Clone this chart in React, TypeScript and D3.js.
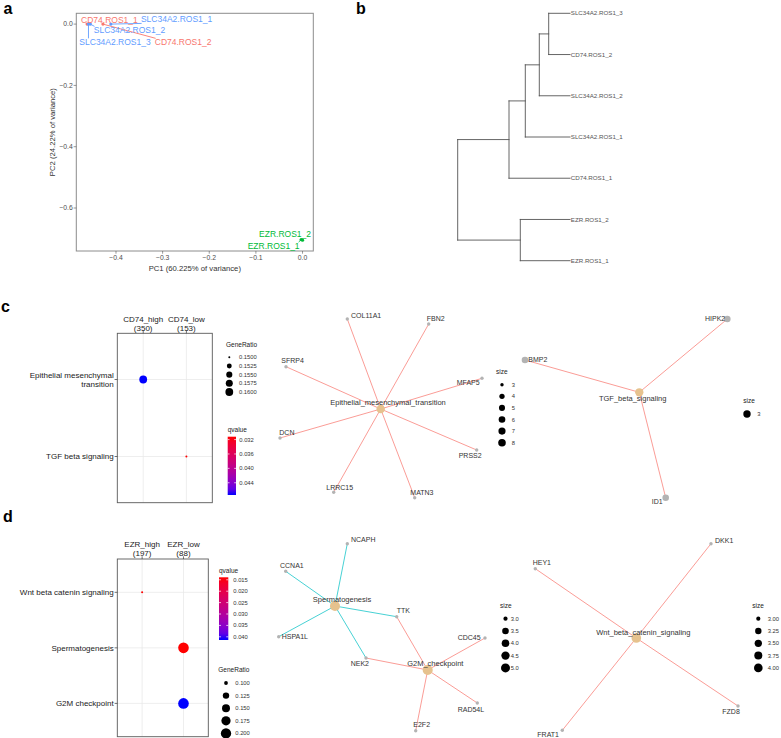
import React from "react";
import * as d3 from "d3";

const FONT = "'Liberation Sans', Arial, Helvetica, sans-serif";

// ---------------- Panel a : PCA ----------------
const pcaSamples = ["CD74.ROS1_1", "CD74.ROS1_2", "SLC34A2.ROS1_1", "SLC34A2.ROS1_2", "SLC34A2.ROS1_3", "EZR.ROS1_1", "EZR.ROS1_2"];
const pcaGroups = ["CD74", "CD74", "SLC34A2", "SLC34A2", "SLC34A2", "EZR", "EZR"];
const pcaPC1 = [-0.462, -0.428, -0.411, -0.455, -0.459, -0.003, 0.0];
const pcaPC2 = [0.0, 0.0, 0.0, 0.0, 0.0, -0.703, -0.705];
const pcaLabelPC1 = [-0.414, -0.256, -0.27, -0.371, -0.402, -0.062, -0.0375];
const pcaLabelPC2 = [0.0146, -0.0595, 0.0153, -0.0205, -0.0595, -0.7242, -0.6852];
const pcaGroupNames = ["CD74", "EZR", "SLC34A2"];
const pcaGroupColors = ["#F8766D", "#00BA38", "#619CFF"];
const pc1Ticks = [-0.4, -0.3, -0.2, -0.1, 0.0];
const pc2Ticks = [0.0, -0.2, -0.4, -0.6];
const pc1Variance = "60.225";
const pc2Variance = "24.22";

// ---------------- Panel b : dendrogram ----------------
const dendroLeaves = ["SLC34A2.ROS1_3", "CD74.ROS1_2", "SLC34A2.ROS1_2", "SLC34A2.ROS1_1", "CD74.ROS1_1", "EZR.ROS1_2", "EZR.ROS1_1"];
const dendroMergeA = [-1, 1, 2, 3, -6, 4];
const dendroMergeB = [-2, -3, -4, -5, -7, 5];
const dendroHeight = [21.3, 30.7, 44.7, 61.0, 49.7, 112.3];

// ---------------- Panel c : dot plot ----------------
const cClusters = ["CD74_high", "CD74_low"];
const cClusterCounts = [350, 153];
const cTerms = ["Epithelial mesenchymal transition", "TGF beta signaling"];
const cDotTerm = ["Epithelial mesenchymal transition", "TGF beta signaling"];
const cDotCluster = ["CD74_high", "CD74_low"];
const cDotRatio = [0.16, 0.15];
const cDotQ = [0.0474, 0.0312];
const cRatioBreaks = [0.15, 0.1525, 0.155, 0.1575, 0.16];
const cQBreaks = [0.032, 0.036, 0.04, 0.044];

// ---------------- Panel d : dot plot ----------------
const dClusters = ["EZR_high", "EZR_low"];
const dClusterCounts = [197, 88];
const dTerms = ["Wnt beta catenin signaling", "Spermatogenesis", "G2M checkpoint"];
const dDotTerm = ["Wnt beta catenin signaling", "Spermatogenesis", "G2M checkpoint"];
const dDotCluster = ["EZR_high", "EZR_low", "EZR_low"];
const dDotRatio = [0.0952, 0.2083, 0.2083];
const dDotQ = [0.0139, 0.0139, 0.0414];
const dRatioBreaks = [0.1, 0.125, 0.15, 0.175, 0.2];
const dQBreaks = [0.015, 0.02, 0.025, 0.03, 0.035, 0.04];

// ---------------- Networks (layout coordinates, in layout units) ----------------
// c, network 1
const n1Categories = ["Epithelial_mesenchymal_transition"];
const n1CatSize = [8];
const n1CatX = [110.7];
const n1CatY = [104];
const n1CatLabelX = [118];
const n1CatLabelY = [97.7];
const n1Genes = ["COL11A1", "FBN2", "SFRP4", "MFAP5", "DCN", "PRSS2", "LRRC15", "MATN3"];
const n1GeneX = [77.3, 158.7, 16, 212, 10, 206.7, 63.7, 144.7];
const n1GeneY = [14, 19, 61.7, 73.3, 133, 145, 187.3, 192.7];
const n1GeneLabelX = [81, 156.7, 11.3, 186.7, 9.3, 188.7, 56.3, 140.3];
const n1GeneLabelY = [10.3, 13.3, 56, 77.7, 127.7, 150.7, 182.3, 187.3];
const n1EdgeCat = ["Epithelial_mesenchymal_transition", "Epithelial_mesenchymal_transition", "Epithelial_mesenchymal_transition", "Epithelial_mesenchymal_transition", "Epithelial_mesenchymal_transition", "Epithelial_mesenchymal_transition", "Epithelial_mesenchymal_transition", "Epithelial_mesenchymal_transition"];
const n1EdgeGene = ["COL11A1", "FBN2", "SFRP4", "MFAP5", "DCN", "PRSS2", "LRRC15", "MATN3"];
const n1SizeBreaks = [3, 4, 5, 6, 7, 8];

// c, network 2
const n2Categories = ["TGF_beta_signaling"];
const n2CatSize = [3];
const n2CatX = [139.3];
const n2CatY = [82.3];
const n2CatLabelX = [132.7];
const n2CatLabelY = [88.7];
const n2Genes = ["HIPK2", "BMP2", "ID1"];
const n2GeneX = [227.3, 25, 165.7];
const n2GeneY = [9, 50, 187.7];
const n2GeneLabelX = [205, 28.3, 151.7];
const n2GeneLabelY = [9, 50, 191.7];
const n2EdgeCat = ["TGF_beta_signaling", "TGF_beta_signaling", "TGF_beta_signaling"];
const n2EdgeGene = ["HIPK2", "BMP2", "ID1"];
const n2SizeBreaks = [3];

// d, network 1
const n3Categories = ["Spermatogenesis", "G2M_checkpoint"];
const n3CatSize = [5, 5];
const n3CatX = [65, 157.7];
const n3CatY = [76, 140];
const n3CatLabelX = [72, 165.3];
const n3CatLabelY = [69, 133.3];
const n3Genes = ["NCAPH", "CCNA1", "HSPA1L", "TTK", "NEK2", "CDC45", "RAD54L", "E2F2"];
const n3GeneX = [77.3, 15.7, 8.7, 126.7, 96, 215, 207.3, 145.7];
const n3GeneY = [13.7, 41.3, 106.7, 86.7, 128, 108, 173, 200.7];
const n3GeneLabelX = [81, 10, 11.7, 126.7, 80.7, 187.7, 187.7, 143.3];
const n3GeneLabelY = [10, 35.7, 106.7, 81, 133.7, 108, 179.3, 195];
const n3EdgeCat = ["Spermatogenesis", "Spermatogenesis", "Spermatogenesis", "Spermatogenesis", "Spermatogenesis", "G2M_checkpoint", "G2M_checkpoint", "G2M_checkpoint", "G2M_checkpoint", "G2M_checkpoint"];
const n3EdgeGene = ["CCNA1", "NCAPH", "HSPA1L", "TTK", "NEK2", "TTK", "NEK2", "CDC45", "RAD54L", "E2F2"];
const n3SizeBreaks = [3.0, 3.5, 4.0, 4.5, 5.0];

// d, network 2
const n4Categories = ["Wnt_beta_catenin_signaling"];
const n4CatSize = [4];
const n4CatX = [106.3];
const n4CatY = [108];
const n4CatLabelX = [113.3];
const n4CatLabelY = [102];
const n4Genes = ["DKK1", "HEY1", "FZD8", "FRAT1"];
const n4GeneX = [181, 5.3, 208, 32.3];
const n4GeneY = [13.7, 38.7, 176, 200.3];
const n4GeneLabelX = [185, 2.7, 192.3, 7.3];
const n4GeneLabelY = [10.7, 32.7, 181.3, 205];
const n4EdgeCat = ["Wnt_beta_catenin_signaling", "Wnt_beta_catenin_signaling", "Wnt_beta_catenin_signaling", "Wnt_beta_catenin_signaling"];
const n4EdgeGene = ["DKK1", "HEY1", "FZD8", "FRAT1"];
const n4SizeBreaks = [3.0, 3.25, 3.5, 3.75, 4.0];

const catPalette = ["#F8766D", "#00BFC4"];

// ------------------------------------------------------------------
function wrapLabel(s: string, width: number): string[] {
  const words = s.split(" ");
  const lines: string[] = [];
  let cur = "";
  for (const w of words) {
    if (!cur) cur = w;
    else if ((cur + " " + w).length <= width) cur += " " + w;
    else {
      lines.push(cur);
      cur = w;
    }
  }
  if (cur) lines.push(cur);
  return lines;
}

function PanelLetter({ x, y, t }: { x: number; y: number; t: string }) {
  return (
    <text x={x} y={y} fontFamily={FONT} fontWeight="bold" fontSize={16} fill="#000">
      {t}
    </text>
  );
}

function PcaPanel() {
  const x0 = 76.3, x1 = 313.3, y0 = 13.3, y1 = 251;
  const xe = d3.extent(pcaPC1) as [number, number];
  const ye = d3.extent(pcaPC2) as [number, number];
  const xpad = (xe[1] - xe[0]) * 0.05;
  const ypad = (ye[1] - ye[0]) * 0.05;
  const x = d3.scaleLinear().domain([xe[0] - xpad, xe[1] + xpad]).range([x0, x1]);
  const y = d3.scaleLinear().domain([ye[0] - ypad, ye[1] + ypad]).range([y1, y0]);
  const color = d3.scaleOrdinal<string, string>().domain(pcaGroupNames).range(pcaGroupColors);
  const fmt = d3.format(".1f");
  const fs = 8.5;
  return (
    <g>
      <rect x={x0} y={y0} width={x1 - x0} height={y1 - y0} fill="#fff" stroke="#8c8c8c" strokeWidth={1} />
      {pc1Ticks.map((t) => (
        <g key={"xt" + t}>
          <line x1={x(t)} x2={x(t)} y1={y1} y2={y1 + 2.7} stroke="#555" strokeWidth={0.6} />
          <text x={x(t)} y={y1 + 6.7} dy="0.35em" textAnchor="middle" fontFamily={FONT} fontSize={6.8} fill="#4d4d4d">
            {fmt(t)}
          </text>
        </g>
      ))}
      {pc2Ticks.map((t) => (
        <g key={"yt" + t}>
          <line x1={x0 - 2.7} x2={x0} y1={y(t)} y2={y(t)} stroke="#555" strokeWidth={0.6} />
          <text x={x0 - 3.5} y={y(t)} dy="0.35em" textAnchor="end" fontFamily={FONT} fontSize={6.8} fill="#4d4d4d">
            {fmt(t)}
          </text>
        </g>
      ))}
      <text x={(x0 + x1) / 2} y={268} dy="0.35em" textAnchor="middle" fontFamily={FONT} fontSize={7.7} fill="#333">
        {`PC1 (${pc1Variance}% of variance)`}
      </text>
      <text
        transform={`translate(52,${(y0 + y1) / 2}) rotate(-90)`}
        dy="0.35em"
        textAnchor="middle"
        fontFamily={FONT}
        fontSize={7.7}
        fill="#333"
      >
        {`PC2 (${pc2Variance}% of variance)`}
      </text>
      {pcaSamples.map((s, i) => {
        const px = x(pcaPC1[i]);
        const py = y(pcaPC2[i]);
        const lx = x(pcaLabelPC1[i]);
        const ly = y(pcaLabelPC2[i]);
        const w = s.length * 5.0;
        const h = 8;
        const cx = Math.max(lx - w / 2, Math.min(px, lx + w / 2));
        const cy = Math.max(ly - h / 2, Math.min(py, ly + h / 2));
        const dist = Math.hypot(cx - px, cy - py);
        const c = color(pcaGroups[i]);
        return (
          <g key={s}>
            {dist > 3 && <line x1={px} y1={py} x2={cx} y2={cy} stroke={c} strokeWidth={0.9} />}
          </g>
        );
      })}
      {pcaSamples.map((s, i) => (
        <circle key={"p" + s} cx={x(pcaPC1[i])} cy={y(pcaPC2[i])} r={1.6} fill={color(pcaGroups[i])} />
      ))}
      {pcaSamples.map((s, i) => (
        <text
          key={"l" + s}
          x={x(pcaLabelPC1[i])}
          y={y(pcaLabelPC2[i])}
          dy="0.35em"
          textAnchor="middle"
          fontFamily={FONT}
          fontSize={fs}
          fill={color(pcaGroups[i])}
        >
          {s}
        </text>
      ))}
    </g>
  );
}

function DendroPanel() {
  const leafY = d3.scalePoint<string>().domain(dendroLeaves).range([13.3, 260.7]);
  const hx = d3.scaleLinear().domain([0, d3.max(dendroHeight) as number]).range([570, 457.7]);
  const nodeY: number[] = [];
  const segs: { x1: number; y1: number; x2: number; y2: number }[] = [];
  const child = (c: number) =>
    c < 0 ? { y: leafY(dendroLeaves[-c - 1]) as number, h: 0 } : { y: nodeY[c - 1], h: dendroHeight[c - 1] };
  dendroHeight.forEach((h, i) => {
    const a = child(dendroMergeA[i]);
    const b = child(dendroMergeB[i]);
    nodeY[i] = (a.y + b.y) / 2;
    const xh = hx(h);
    segs.push({ x1: xh, y1: a.y, x2: xh, y2: b.y });
    segs.push({ x1: xh, y1: a.y, x2: hx(a.h), y2: a.y });
    segs.push({ x1: xh, y1: b.y, x2: hx(b.h), y2: b.y });
  });
  return (
    <g>
      {segs.map((s, i) => (
        <line key={i} x1={s.x1} y1={s.y1} x2={s.x2} y2={s.y2} stroke="#555" strokeWidth={0.9} strokeLinecap="square" />
      ))}
      {dendroLeaves.map((l) => (
        <text key={l} x={hx(0) + 0.8} y={leafY(l)} dy="0.35em" fontFamily={FONT} fontSize={6.2} fill="#555">
          {l}
        </text>
      ))}
    </g>
  );
}

type LegendPos = { x: number; titleY: number; firstY: number; step: number; dotX: number; labelX: number };
type BarPos = { x: number; titleY: number; top: number; h: number; w: number; labelX: number };

function DotPlot(props: {
  id: string;
  clusters: string[];
  counts: number[];
  terms: string[];
  dotTerm: string[];
  dotCluster: string[];
  dotRatio: number[];
  dotQ: number[];
  ratioBreaks: number[];
  ratioFmt: string;
  qBreaks: number[];
  qFmt: string;
  frame: { x0: number; x1: number; y0: number; y1: number };
  colLabelY: number;
  rRange: [number, number];
  ratioLegend: LegendPos;
  qLegend: BarPos;
}) {
  const { frame } = props;
  const xs = d3.scalePoint<string>().domain(props.clusters).range([frame.x0, frame.x1]).padding(0.6);
  const ys = d3.scalePoint<string>().domain(props.terms).range([frame.y0, frame.y1]).padding(0.6);
  const re = d3.extent(props.dotRatio) as [number, number];
  const rLin = d3.scaleLinear().domain([0, 1]).range(props.rRange);
  const rScale = (v: number) => rLin(Math.sqrt(Math.max(0, (v - re[0]) / (re[1] - re[0]))));
  const qe = d3.extent(props.dotQ) as [number, number];
  const col = d3.scaleLinear<string>().domain(qe).range(["#FF0000", "#0000FF"]).interpolate(d3.interpolateLab);
  const qPos = d3.scaleLinear().domain(qe).range([props.qLegend.top, props.qLegend.top + props.qLegend.h]);
  const rf = d3.format(props.ratioFmt);
  const qf = d3.format(props.qFmt);
  const gid = "grad-" + props.id;
  const stops = d3.range(0, 1.0001, 0.1);
  const tfs = 8;
  return (
    <g fontFamily={FONT}>
      <defs>
        <linearGradient id={gid} x1="0" y1="0" x2="0" y2="1">
          {stops.map((s) => (
            <stop key={s} offset={s} stopColor={col(qe[0] + s * (qe[1] - qe[0]))} />
          ))}
        </linearGradient>
      </defs>
      <rect x={frame.x0} y={frame.y0} width={frame.x1 - frame.x0} height={frame.y1 - frame.y0} fill="#fff" />
      {props.clusters.map((c) => (
        <line key={"gv" + c} x1={xs(c)} x2={xs(c)} y1={frame.y0} y2={frame.y1} stroke="#e6e6e6" strokeWidth={0.7} />
      ))}
      {props.terms.map((t) => (
        <line key={"gh" + t} x1={frame.x0} x2={frame.x1} y1={ys(t)} y2={ys(t)} stroke="#e6e6e6" strokeWidth={0.7} />
      ))}
      {props.dotTerm.map((t, i) => (
        <circle key={"d" + i} cx={xs(props.dotCluster[i])} cy={ys(t)} r={rScale(props.dotRatio[i])} fill={col(props.dotQ[i])} />
      ))}
      <rect
        x={frame.x0}
        y={frame.y0}
        width={frame.x1 - frame.x0}
        height={frame.y1 - frame.y0}
        fill="none"
        stroke="#5a5a5a"
        strokeWidth={0.9}
      />
      {props.clusters.map((c, i) => (
        <g key={"cl" + c}>
          <line x1={xs(c)} x2={xs(c)} y1={frame.y0 - 2.7} y2={frame.y0} stroke="#333" strokeWidth={0.7} />
          <text x={xs(c)} y={props.colLabelY} dy="0.35em" textAnchor="middle" fontSize={tfs} fill="#1a1a1a">
            {c}
          </text>
          <text x={xs(c)} y={props.colLabelY + 9.3} dy="0.35em" textAnchor="middle" fontSize={tfs} fill="#1a1a1a">
            {`(${props.counts[i]})`}
          </text>
        </g>
      ))}
      {props.terms.map((t) => {
        const lines = wrapLabel(t, 30);
        const yc = ys(t) as number;
        const lh = 8.7;
        return (
          <g key={"rl" + t}>
            <line x1={frame.x0 - 2.7} x2={frame.x0} y1={yc} y2={yc} stroke="#333" strokeWidth={0.7} />
            {lines.map((ln, k) => (
              <text
                key={k}
                x={frame.x0 - 3.6}
                y={yc + (k - (lines.length - 1) / 2) * lh}
                dy="0.35em"
                textAnchor="end"
                fontSize={tfs}
                fill="#1a1a1a"
              >
                {ln}
              </text>
            ))}
          </g>
        );
      })}
      {/* GeneRatio legend */}
      <text x={props.ratioLegend.x} y={props.ratioLegend.titleY} dy="0.35em" fontSize={6.5} fill="#1a1a1a">
        GeneRatio
      </text>
      {props.ratioBreaks.map((b, i) => {
        const yy = props.ratioLegend.firstY + i * props.ratioLegend.step;
        return (
          <g key={"rb" + b}>
            <circle cx={props.ratioLegend.dotX} cy={yy} r={rScale(b)} fill="#000" />
            <text x={props.ratioLegend.labelX} y={yy} dy="0.35em" fontSize={5.8} fill="#333">
              {rf(b)}
            </text>
          </g>
        );
      })}
      {/* qvalue legend */}
      <text x={props.qLegend.x} y={props.qLegend.titleY} dy="0.35em" fontSize={6.5} fill="#1a1a1a">
        qvalue
      </text>
      <rect x={props.qLegend.x} y={props.qLegend.top} width={props.qLegend.w} height={props.qLegend.h} fill={`url(#${gid})`} />
      {props.qBreaks.map((b) => {
        const yy = qPos(b);
        return (
          <g key={"qb" + b}>
            <line x1={props.qLegend.x} x2={props.qLegend.x + props.qLegend.w * 0.22} y1={yy} y2={yy} stroke="#fff" strokeWidth={0.7} />
            <line
              x1={props.qLegend.x + props.qLegend.w * 0.78}
              x2={props.qLegend.x + props.qLegend.w}
              y1={yy}
              y2={yy}
              stroke="#fff"
              strokeWidth={0.7}
            />
            <text x={props.qLegend.labelX} y={yy} dy="0.35em" fontSize={5.8} fill="#333">
              {qf(b)}
            </text>
          </g>
        );
      })}
    </g>
  );
}

function Network(props: {
  frameX: number;
  frameY: number;
  categories: string[];
  catSize: number[];
  catX: number[];
  catY: number[];
  catLabelX: number[];
  catLabelY: number[];
  genes: string[];
  geneX: number[];
  geneY: number[];
  geneLabelX: number[];
  geneLabelY: number[];
  edgeCat: string[];
  edgeGene: string[];
  sizeBreaks: number[];
  sizeFmt: string;
  rRange: [number, number];
  geneR: number;
  legend: LegendPos;
}) {
  const ext = d3.extent(props.sizeBreaks) as [number, number];
  const sx = d3.scaleLinear().domain([0, 250]).range([props.frameX, props.frameX + 250]);
  const sy = d3.scaleLinear().domain([0, 250]).range([props.frameY, props.frameY + 250]);
  const rLin = d3.scaleLinear().domain([0, 1]).range(props.rRange);
  const rScale = (v: number) =>
    ext[1] === ext[0] ? props.rRange[1] : rLin(Math.sqrt((v - ext[0]) / (ext[1] - ext[0])));
  const sorted = [...props.categories].sort();
  const ecol = d3.scaleOrdinal<string, string>().domain(sorted).range(catPalette);
  const catIdx = (c: string) => props.categories.indexOf(c);
  const geneIdx = (g: string) => props.genes.indexOf(g);
  const sf = d3.format(props.sizeFmt);
  return (
    <g fontFamily={FONT}>
      {props.edgeCat.map((c, i) => {
        const ci = catIdx(c);
        const gi = geneIdx(props.edgeGene[i]);
        return (
          <line
            key={"e" + i}
            x1={sx(props.catX[ci])}
            y1={sy(props.catY[ci])}
            x2={sx(props.geneX[gi])}
            y2={sy(props.geneY[gi])}
            stroke={ecol(c)}
            strokeOpacity={0.72}
            strokeWidth={1}
          />
        );
      })}
      {props.genes.map((g, i) => (
        <circle key={"g" + g} cx={sx(props.geneX[i])} cy={sy(props.geneY[i])} r={props.geneR} fill="#b3b3b3" />
      ))}
      {props.categories.map((c, i) => (
        <circle key={"c" + c} cx={sx(props.catX[i])} cy={sy(props.catY[i])} r={rScale(props.catSize[i]) * 1.12} fill="#E6C28E" />
      ))}
      {props.genes.map((g, i) => (
        <text key={"gl" + g} x={sx(props.geneLabelX[i])} y={sy(props.geneLabelY[i])} dy="0.35em" fontSize={7} fill="#333">
          {g}
        </text>
      ))}
      {props.categories.map((c, i) => (
        <text
          key={"cl" + c}
          x={sx(props.catLabelX[i])}
          y={sy(props.catLabelY[i])}
          dy="0.35em"
          textAnchor="middle"
          fontSize={7.5}
          fill="#333"
        >
          {c}
        </text>
      ))}
      <text x={props.legend.x} y={props.legend.titleY} dy="0.35em" fontSize={6.5} fill="#1a1a1a">
        size
      </text>
      {props.sizeBreaks.map((b, i) => {
        const yy = props.legend.firstY + i * props.legend.step;
        return (
          <g key={"sb" + b}>
            <circle cx={props.legend.dotX} cy={yy} r={rScale(b)} fill="#000" />
            <text x={props.legend.labelX} y={yy} dy="0.35em" fontSize={5.8} fill="#333">
              {sf(b)}
            </text>
          </g>
        );
      })}
    </g>
  );
}

export default function App() {
  return (
    <div style={{ position: "absolute", left: 0, top: 0 }}>
      <svg width={781} height={738} style={{ display: "block", background: "#fff" }}>
        <rect width={781} height={738} fill="#fff" />
        <PanelLetter x={3.5} y={14} t="a" />
        <PanelLetter x={356} y={13.5} t="b" />
        <PanelLetter x={1} y={311.7} t="c" />
        <PanelLetter x={3} y={521.7} t="d" />
        <PcaPanel />
        <DendroPanel />
        <DotPlot
          id="c"
          clusters={cClusters}
          counts={cClusterCounts}
          terms={cTerms}
          dotTerm={cDotTerm}
          dotCluster={cDotCluster}
          dotRatio={cDotRatio}
          dotQ={cDotQ}
          ratioBreaks={cRatioBreaks}
          ratioFmt=".4f"
          qBreaks={cQBreaks}
          qFmt=".3f"
          frame={{ x0: 117.3, x1: 212.3, y0: 333.3, y1: 502.7 }}
          colLabelY={319}
          rRange={[1.0, 3.9]}
          ratioLegend={{ x: 226, titleY: 345, firstY: 357.3, step: 8.67, dotX: 229.3, labelX: 239 }}
          qLegend={{ x: 227.7, titleY: 429.3, top: 436.7, h: 58.3, w: 8.3, labelX: 239.3 }}
        />
        <DotPlot
          id="d"
          clusters={dClusters}
          counts={dClusterCounts}
          terms={dTerms}
          dotTerm={dDotTerm}
          dotCluster={dDotCluster}
          dotRatio={dDotRatio}
          dotQ={dDotQ}
          ratioBreaks={dRatioBreaks}
          ratioFmt=".3f"
          qBreaks={dQBreaks}
          qFmt=".3f"
          frame={{ x0: 117.3, x1: 208.3, y0: 559, y1: 736.7 }}
          colLabelY={544}
          rRange={[1.0, 5.3]}
          ratioLegend={{ x: 218.3, titleY: 669.3, firstY: 683, step: 12.6, dotX: 226, labelX: 235.3 }}
          qLegend={{ x: 219, titleY: 571, top: 577.3, h: 62.7, w: 9.3, labelX: 233.3 }}
        />
        <Network
          frameX={270}
          frameY={305}
          categories={n1Categories}
          catSize={n1CatSize}
          catX={n1CatX}
          catY={n1CatY}
          catLabelX={n1CatLabelX}
          catLabelY={n1CatLabelY}
          genes={n1Genes}
          geneX={n1GeneX}
          geneY={n1GeneY}
          geneLabelX={n1GeneLabelX}
          geneLabelY={n1GeneLabelY}
          edgeCat={n1EdgeCat}
          edgeGene={n1EdgeGene}
          sizeBreaks={n1SizeBreaks}
          sizeFmt="d"
          rRange={[1.7, 3.8]}
          geneR={1.7}
          legend={{ x: 496, titleY: 371.7, firstY: 384.7, step: 11.6, dotX: 502, labelX: 511.7 }}
        />
        <Network
          frameX={500}
          frameY={310}
          categories={n2Categories}
          catSize={n2CatSize}
          catX={n2CatX}
          catY={n2CatY}
          catLabelX={n2CatLabelX}
          catLabelY={n2CatLabelY}
          genes={n2Genes}
          geneX={n2GeneX}
          geneY={n2GeneY}
          geneLabelX={n2GeneLabelX}
          geneLabelY={n2GeneLabelY}
          edgeCat={n2EdgeCat}
          edgeGene={n2EdgeGene}
          sizeBreaks={n2SizeBreaks}
          sizeFmt="d"
          rRange={[3.7, 3.7]}
          geneR={3.3}
          legend={{ x: 743.3, titleY: 401, firstY: 414, step: 11.6, dotX: 747, labelX: 757.3 }}
        />
        <Network
          frameX={270}
          frameY={530}
          categories={n3Categories}
          catSize={n3CatSize}
          catX={n3CatX}
          catY={n3CatY}
          catLabelX={n3CatLabelX}
          catLabelY={n3CatLabelY}
          genes={n3Genes}
          geneX={n3GeneX}
          geneY={n3GeneY}
          geneLabelX={n3GeneLabelX}
          geneLabelY={n3GeneLabelY}
          edgeCat={n3EdgeCat}
          edgeGene={n3EdgeGene}
          sizeBreaks={n3SizeBreaks}
          sizeFmt=".1f"
          rRange={[2.1, 4.5]}
          geneR={1.7}
          legend={{ x: 500, titleY: 605.3, firstY: 618.7, step: 12.3, dotX: 505.5, labelX: 510.7 }}
        />
        <Network
          frameX={530}
          frameY={530}
          categories={n4Categories}
          catSize={n4CatSize}
          catX={n4CatX}
          catY={n4CatY}
          catLabelX={n4CatLabelX}
          catLabelY={n4CatLabelY}
          genes={n4Genes}
          geneX={n4GeneX}
          geneY={n4GeneY}
          geneLabelX={n4GeneLabelX}
          geneLabelY={n4GeneLabelY}
          edgeCat={n4EdgeCat}
          edgeGene={n4EdgeGene}
          sizeBreaks={n4SizeBreaks}
          sizeFmt=".2f"
          rRange={[2.1, 4.3]}
          geneR={1.7}
          legend={{ x: 752.3, titleY: 605.3, firstY: 618.7, step: 12.3, dotX: 758.3, labelX: 767.7 }}
        />
      </svg>
    </div>
  );
}
